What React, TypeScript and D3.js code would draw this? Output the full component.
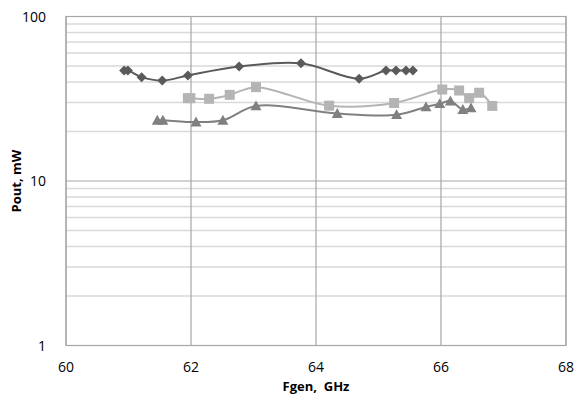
import React from "react";
import * as d3 from "d3";

const W = 577;
const H = 396;

const xTicks = [60, 62, 64, 66, 68];
const yTicks = [1, 10, 100];

const diamondF = [60.93, 60.99, 61.21, 61.54, 61.95, 62.77, 63.76, 64.69, 65.12, 65.28, 65.44, 65.55];
const diamondP = [46.9, 46.9, 42.8, 40.8, 43.8, 49.6, 51.9, 41.8, 46.9, 46.9, 46.9, 46.9];

const squareF = [61.95, 61.99, 62.29, 62.62, 63.04, 64.21, 65.25, 66.02, 66.29, 66.45, 66.61, 66.82];
const squareP = [31.9, 31.9, 31.6, 33.4, 37.2, 28.7, 29.8, 36.0, 35.5, 31.9, 34.4, 28.6];

const triangleF = [61.46, 61.55, 62.08, 62.51, 63.04, 64.34, 65.29, 65.76, 65.98, 66.15, 66.35, 66.48];
const triangleP = [23.4, 23.4, 22.8, 23.4, 28.6, 25.7, 25.3, 28.2, 29.5, 30.6, 27.2, 27.8];

const FONT = "'Open Sans', 'Liberation Sans', sans-serif";

export default function App() {
  const left = 66, right = 566, top = 16.5, bottom = 345.5;
  const x = d3.scaleLinear().domain([60, 68]).range([left, right]);
  const y = d3.scaleLog().domain([1, 100]).range([bottom, top]);

  const minor: number[] = [];
  [1, 10].forEach((d) => {
    for (let k = 2; k <= 9; k++) minor.push(d * k);
  });

  const line = d3
    .line<[number, number]>()
    .x((d) => x(d[0]))
    .y((d) => y(d[1]))
    .curve(d3.curveCatmullRom.alpha(0.5));

  const series = [
    { f: diamondF, p: diamondP, color: "#5a5a5a", shape: "diamond" },
    { f: squareF, p: squareP, color: "#b4b4b4", shape: "square" },
    { f: triangleF, p: triangleP, color: "#808080", shape: "triangle" },
  ];

  const marker = (shape: string, cx: number, cy: number, color: string, key: string) => {
    if (shape === "diamond") {
      const s = 5;
      return (
        <path key={key} d={`M${cx},${cy - s}L${cx + s},${cy}L${cx},${cy + s}L${cx - s},${cy}Z`} fill={color} />
      );
    }
    if (shape === "square") {
      const s = 5;
      return <rect key={key} x={cx - s} y={cy - s} width={2 * s} height={2 * s} fill={color} />;
    }
    const s = 5.5;
    return (
      <path key={key} d={`M${cx},${cy - s}L${cx + s},${cy + s * 0.8}L${cx - s},${cy + s * 0.8}Z`} fill={color} />
    );
  };

  return (
    <svg width={W} height={H} style={{ position: "absolute", left: 0, top: 0 }}>
      <rect x={0} y={0} width={W} height={H} fill="#fff" />
      {minor.map((v) => (
        <line key={"m" + v} x1={left} x2={right} y1={y(v)} y2={y(v)} stroke="#d9d9d9" strokeWidth={1.5} />
      ))}
      {yTicks.map((v) => (
        <line key={"y" + v} x1={left} x2={right} y1={y(v)} y2={y(v)} stroke="#a6a6a6" strokeWidth={1.2} />
      ))}
      {xTicks.map((v) => (
        <line key={"x" + v} x1={x(v)} x2={x(v)} y1={top} y2={bottom} stroke="#a6a6a6" strokeWidth={1.2} />
      ))}
      <rect x={left} y={top} width={right - left} height={bottom - top} fill="none" stroke="#a6a6a6" strokeWidth={1.2} />

      {series.map((s, i) => {
        const pts = s.f.map((f, j) => [f, s.p[j]] as [number, number]);
        return (
          <g key={"s" + i}>
            <path d={line(pts) || ""} fill="none" stroke={s.color} strokeWidth={2} />
            {pts.map((p, j) => marker(s.shape, x(p[0]), y(p[1]), s.color, `mk${i}-${j}`))}
          </g>
        );
      })}

      {yTicks.map((v) => (
        <text key={"yl" + v} x={46} y={y(v) + 5} textAnchor="end" fontFamily={FONT} fontSize={14} fill="#000">
          {v}
        </text>
      ))}
      {xTicks.map((v) => (
        <text key={"xl" + v} x={x(v)} y={372} textAnchor="middle" fontFamily={FONT} fontSize={14} fill="#000">
          {v}
        </text>
      ))}
      <text x={316} y={390.5} textAnchor="middle" fontFamily={FONT} fontSize={13} fontWeight="bold" fill="#000">
        {"Fgen,\u00a0 GHz"}
      </text>
      <text
        transform="translate(21,181) rotate(-90)"
        textAnchor="middle"
        fontFamily={FONT}
        fontSize={13}
        fontWeight="bold"
        fill="#000"
      >
        Pout, mW
      </text>
    </svg>
  );
}
